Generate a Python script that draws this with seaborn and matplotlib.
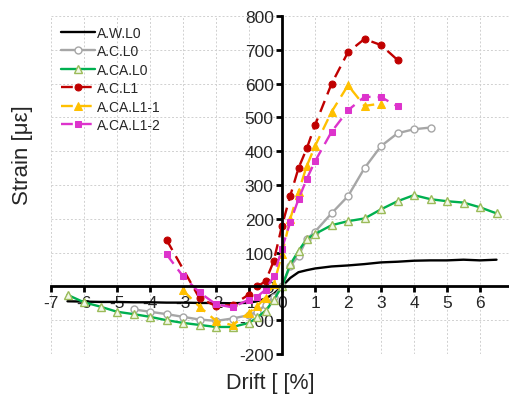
import matplotlib
matplotlib.use("Agg")
import matplotlib.pyplot as plt
import seaborn as sns
import pandas as pd
import numpy as np

sns.set_style("white")
plt.rcParams['font.family'] = ['Liberation Sans', 'DejaVu Sans']

# ---- data ----
x_awl0 = [-6.5, -6, -5.5, -5, -4.5, -4, -3.5, -3, -2.5, -2, -1.5, -1, -0.75, -0.5, -0.25,
          0, 0.25, 0.5, 0.75, 1, 1.5, 2, 2.5, 3, 3.5, 4, 4.5, 5, 5.5, 6, 6.5]
y_awl0 = [-44, -45, -46, -46, -47, -47, -48, -48, -49, -49, -50, -48, -44, -36, -22,
          0, 25, 42, 48, 53, 59, 62, 66, 71, 73, 76, 77, 77, 79, 77, 79]

x_acl0 = [-4.5, -4, -3.5, -3, -2.5, -2, -1.5, -1, -0.75, -0.5, -0.25,
          0, 0.25, 0.5, 0.75, 1, 1.5, 2, 2.5, 3, 3.5, 4, 4.5]
y_acl0 = [-68, -75, -82, -90, -98, -102, -95, -85, -75, -55, -30,
          0, 60, 90, 140, 162, 216, 267, 350, 415, 453, 465, 470]

x_acal0 = [-6.5, -6, -5.5, -5, -4.5, -4, -3.5, -3, -2.5, -2, -1.5, -1, -0.75, -0.5, -0.25,
           0, 0.25, 0.5, 0.75, 1, 1.5, 2, 2.5, 3, 3.5, 4, 4.5, 5, 5.5, 6, 6.5]
y_acal0 = [-25, -47, -60, -75, -82, -90, -100, -108, -114, -120, -120, -108, -92, -72, -40,
           0, 65, 105, 140, 155, 181, 193, 201, 228, 252, 270, 258, 252, 248, 234, 216]

x_acl1 = [-3.5, -2.5, -2, -1.5, -1, -0.75, -0.5, -0.25,
          0, 0.25, 0.5, 0.75, 1, 1.5, 2, 2.5, 3, 3.5]
y_acl1 = [138, -35, -58, -55, -24, 0, 15, 75,
          180, 268, 350, 408, 477, 599, 693, 732, 714, 670]

x_acal11 = [-3, -2.5, -2, -1.5, -1, -0.75, -0.5, -0.25,
            0, 0.25, 0.5, 0.75, 1, 1.5, 2, 2.5, 3]
y_acal11 = [-12, -60, -102, -115, -78, -58, -33, 6,
            95, 200, 280, 356, 415, 516, 595, 534, 541]

x_acal12 = [-3.5, -3, -2.5, -2, -1.5, -1, -0.75, -0.5, -0.25,
            0, 0.25, 0.5, 0.75, 1, 1.5, 2, 2.5, 3, 3.5]
y_acal12 = [95, 30, -18, -53, -62, -39, -30, -10, 30,
            112, 190, 258, 318, 370, 457, 521, 561, 560, 533]

labels = ["A.W.L0", "A.C.L0", "A.CA.L0", "A.C.L1", "A.CA.L1-1", "A.CA.L1-2"]
xticks = [-7, -6, -5, -4, -3, -2, -1, 0, 1, 2, 3, 4, 5, 6]
yticks = [-200, -100, 0, 100, 200, 300, 400, 500, 600, 700, 800]

dash = (0, (5, 3))
series = [
    (x_awl0, y_awl0, dict(color="black", marker=None, linestyle="-")),
    (x_acl0, y_acl0, dict(color="#A6A6A6", marker="o", linestyle="-", markersize=5,
                          markerfacecolor="white", markeredgecolor="#A6A6A6", markeredgewidth=1.0)),
    (x_acal0, y_acal0, dict(color="#00B050", marker="^", linestyle="-", markersize=5.5,
                            markerfacecolor="#F2F8E8", markeredgecolor="#9BBB59", markeredgewidth=1.0)),
    (x_acl1, y_acl1, dict(color="#C00000", marker="o", linestyle=dash, markersize=5,
                          markerfacecolor="#C00000", markeredgecolor="#C00000")),
    (x_acal11, y_acal11, dict(color="#FFC000", marker="^", linestyle=dash, markersize=5.5,
                              markerfacecolor="#FFC000", markeredgecolor="#FFC000")),
    (x_acal12, y_acal12, dict(color="#DD33CC", marker="s", linestyle=dash, markersize=5,
                              markerfacecolor="#DD33CC", markeredgecolor="#DD33CC")),
]

fig = plt.figure(figsize=(5.09, 4.02), dpi=100)
ax = fig.add_axes([51 / 509, 1 - 355 / 402, 1 - 51 / 509, (355 - 17) / 402])

for (xs, ys, st), lab in zip(series, labels):
    df = pd.DataFrame({"x": xs, "y": ys})
    sns.lineplot(data=df, x="x", y="y", ax=ax, label=lab, estimator=None, sort=False,
                 linewidth=1.7, **st)

ax.set_xlim(-7, (509 - 51) / 33 - 7)
ax.set_ylim(-200, 800)
ax.set_xticks(xticks)
ax.set_yticks(yticks)
ax.set_xticklabels([str(t) for t in xticks])
ax.set_yticklabels([str(t) for t in yticks])
ax.grid(True, color="#D0D0D0", linestyle=(0, (2, 2)), linewidth=0.7)
ax.set_axisbelow(True)

for s in ["top", "right"]:
    ax.spines[s].set_visible(False)
ax.spines["left"].set_position(("data", 0))
ax.spines["bottom"].set_position(("data", 0))
ax.spines["left"].set_linewidth(2)
ax.spines["bottom"].set_linewidth(2)
ax.spines["left"].set_color("black")
ax.spines["bottom"].set_color("black")
ax.tick_params(axis="both", direction="out", length=4, width=2, labelsize=12.5, color="black",
               bottom=True, left=True, pad=2)
ax.set_xlabel("")
ax.set_ylabel("")

fig.text(0.53, 0.047, "Drift [ [%]", ha="center", va="center", fontsize=15.5)
fig.text(0.045, 0.615, "Strain [\u03bc\u03b5]", ha="center", va="center", fontsize=16, rotation=90)

leg = ax.legend(loc="upper left", bbox_to_anchor=(0.0, 1.0), frameon=False, fontsize=10,
                handlelength=2.5, labelspacing=0.32, handletextpad=0.1, borderaxespad=0.3)

fig.savefig("out.png", dpi=100)
